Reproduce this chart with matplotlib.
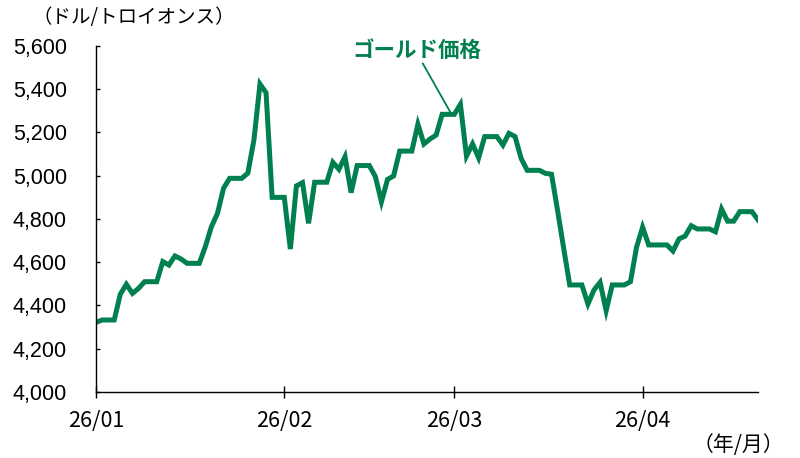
import matplotlib
matplotlib.use("Agg")
import matplotlib.pyplot as plt
import matplotlib.dates as mdates
import numpy as np
import pandas as pd

# gold price, calendar days from 2026-01-01 (weekends carry the last value)
start_date = "2026-01-01"
gold = [
    4322, 4333, 4333, 4333, 4452, 4498, 4456, 4479, 4510, 4510,
    4510, 4603, 4587, 4629, 4615, 4595, 4595, 4595, 4672, 4764,
    4826, 4942, 4988, 4988, 4988, 5012, 5165, 5424, 5384, 4900,
    4900, 4900, 4661, 4953, 4968, 4780, 4970, 4970, 4970, 5062,
    5030, 5088, 4922, 5047, 5047, 5047, 4996, 4880, 4983, 4999,
    5114, 5114, 5114, 5238, 5147, 5170, 5188, 5284, 5284, 5284,
    5330, 5091, 5147, 5083, 5181, 5181, 5181, 5142, 5196, 5181,
    5080, 5025, 5025, 5025, 5011, 5007, 4840, 4665, 4495, 4495,
    4495, 4407, 4472, 4507, 4376, 4495, 4495, 4495, 4510, 4669,
    4762, 4680, 4680, 4680, 4680, 4652, 4708, 4721, 4769, 4754,
    4754, 4754, 4741, 4846, 4790, 4790, 4834, 4834, 4834, 4796,
]
dates = pd.date_range(start_date, periods=len(gold), freq="D")

month_ticks = ["2026-01-01", "2026-02-01", "2026-03-01", "2026-04-01"]
month_labels = ["26/01", "26/02", "26/03", "26/04"]
y_ticks = [4000, 4200, 4400, 4600, 4800, 5000, 5200, 5400, 5600]

green = "#007F4F"
jp = ["Noto Sans CJK JP", "DejaVu Sans"]

fig = plt.figure(figsize=(8, 4.58), dpi=100)
ax = fig.add_axes([0.12, 0.1441, 0.8275, 0.7555])

ax.plot(dates, gold, color=green, lw=3.6, solid_joinstyle="miter")

ax.set_xlim(dates[0], dates[-1])
ax.set_ylim(4000, 5600)
ax.set_yticks(y_ticks)
ax.set_yticklabels([f"{v:,}" for v in y_ticks], family="Liberation Sans", fontsize=15.5)
ax.set_xticks(pd.to_datetime(month_ticks))
ax.set_xticklabels(month_labels, family=jp, fontsize=15.5)

ax.tick_params(axis="x", direction="inout", length=8, width=1, pad=9)
ax.tick_params(axis="y", direction="in", length=3, width=1, pad=21)
for s in ["top", "right"]:
    ax.spines[s].set_visible(False)
for s in ["left", "bottom"]:
    ax.spines[s].set_linewidth(1)

# label for the line
ax.annotate("ゴールド価格", xy=(dates[0] + pd.Timedelta(days=58.3), 5296),
            xytext=(dates[0] + pd.Timedelta(days=52.9), 5581),
            ha="center", va="center", color=green, fontsize=15.5,
            fontweight="bold", family=jp,
            arrowprops=dict(arrowstyle="-", color=green, lw=1.3,
                            relpos=(0.53, 0.0), shrinkA=0, shrinkB=0))

fig.text(32 / 800, 1 - 17 / 458, "（ドル/トロイオンス）", ha="left", va="center",
         fontsize=14, family=jp)
fig.text(784 / 800, 1 - 445 / 458, "（年/月）", ha="right", va="center",
         fontsize=15, family=jp)

fig.savefig("out.png", dpi=100)
